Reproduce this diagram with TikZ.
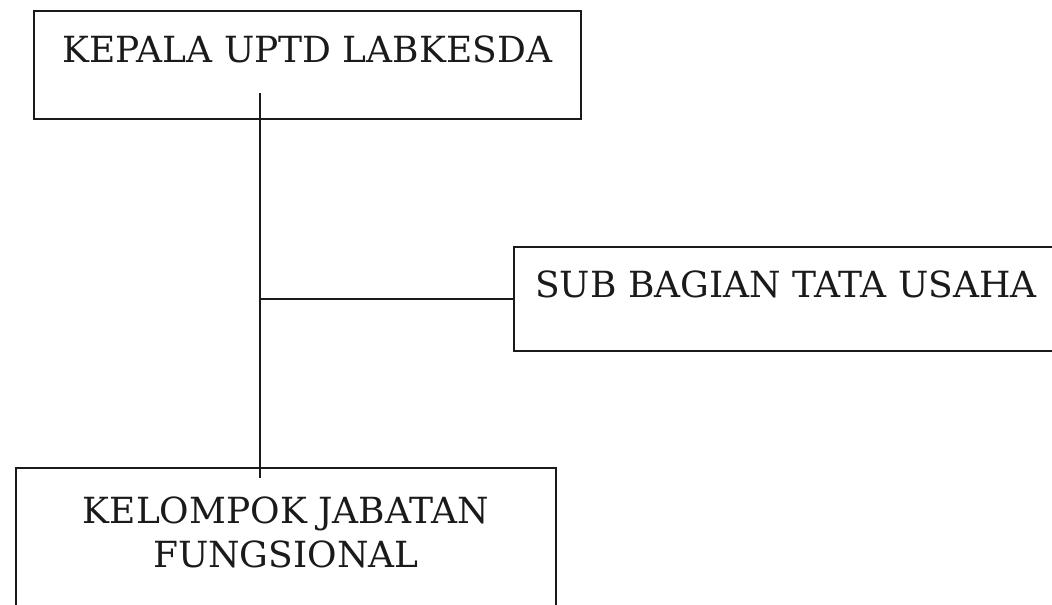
\documentclass[tikz,border=0pt]{standalone}
\usepackage{fontspec}
\setmainfont{DejaVu Serif}
\usepackage{xcolor}
\usepackage{tikz}
\usetikzlibrary{positioning,calc}
\definecolor{ink}{HTML}{1A1A1A}
\tikzset{
  unit/.style={rectangle, draw=ink, line width=0.85pt, anchor=north west,
               align=center, inner xsep=0pt, inner ysep=0pt,
               font=\fontsize{18}{22}\selectfont, text=ink},
  link/.style={draw=ink, line width=0.75pt}
}

\begin{document}
\begin{tikzpicture}[x=0.5pt, y=-0.5pt]
  \useasboundingbox (0,0) rectangle (1052,604);
  \node[unit, minimum width=273.5pt, text height=26pt, text depth=28pt] (kepala) at (33,10) {KEPALA UPTD LABKESDA};
  \node[unit, minimum width=272pt, text height=25.5pt, text depth=26.5pt] (subbag) at (513,246) {SUB BAGIAN TATA USAHA};
  \node[unit, minimum width=270pt, text height=50pt, text depth=27pt] (jabfung) at (15,467) {KELOMPOK JABATAN\\FUNGSIONAL};
  \coordinate (spinetop) at (260,93);
  \coordinate (spinebot) at (260,478);
  \coordinate (branch) at (spinetop |- subbag.west);
  \draw[link] (spinetop) -- (spinebot);
  \draw[link] (branch) -- (subbag.west);
\end{tikzpicture}
\end{document}
